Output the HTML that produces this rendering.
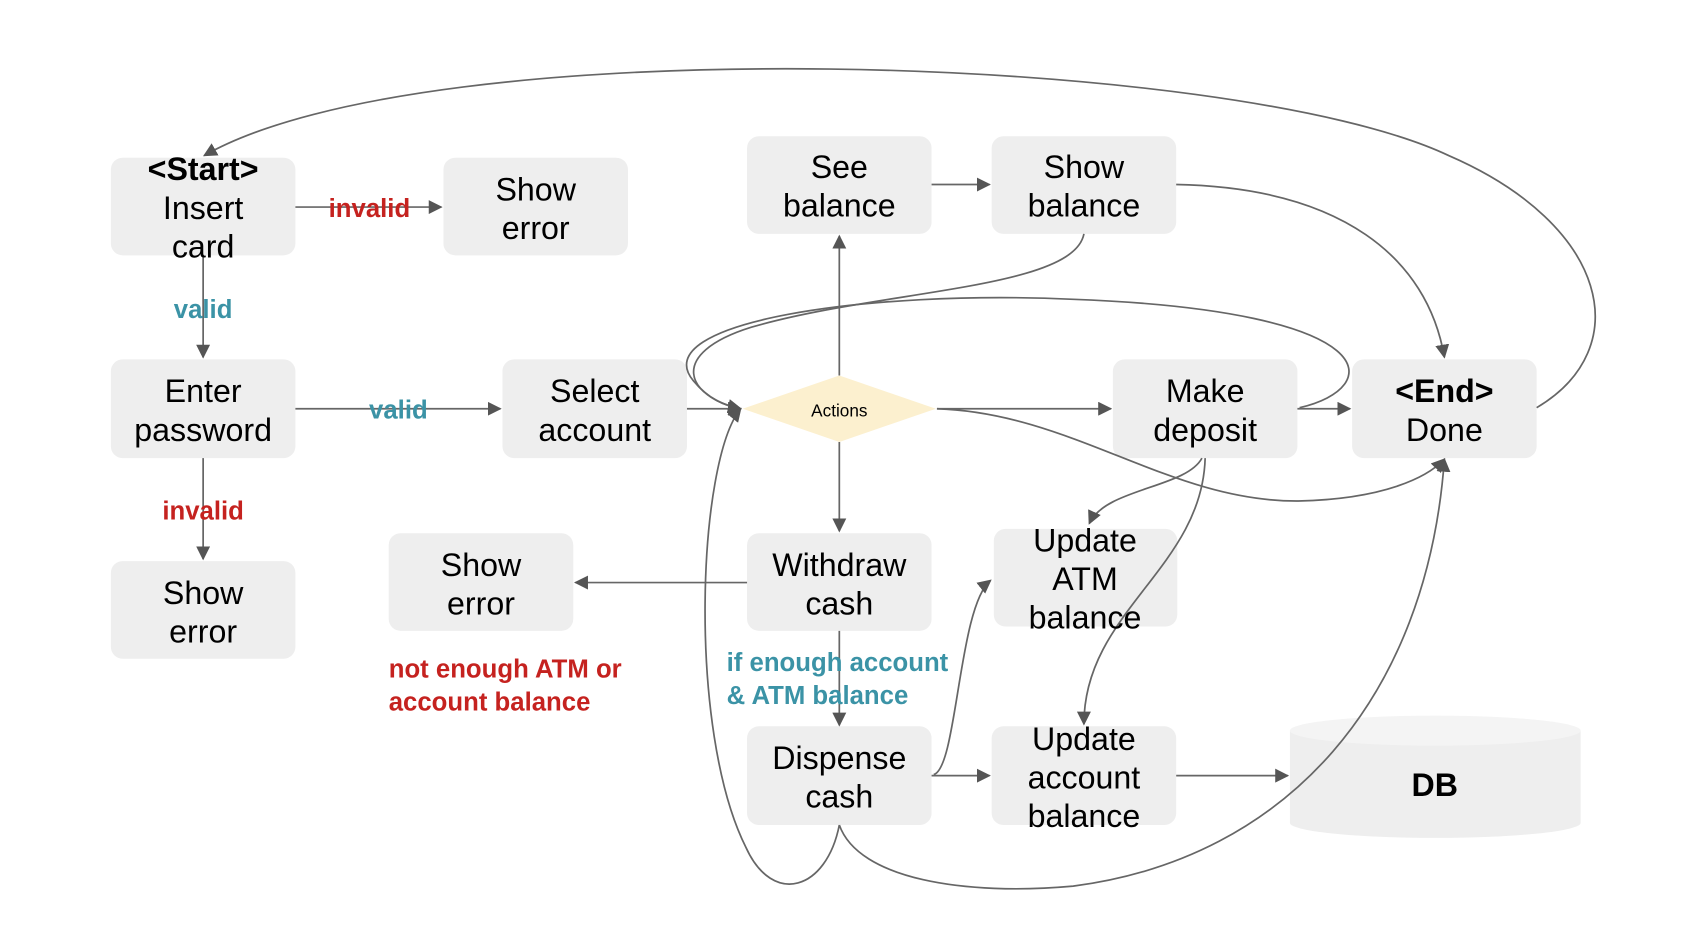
<!DOCTYPE html>
<html><head><style>
html,body{margin:0;padding:0;background:#fff;}
svg{display:block;}
text{font-family:"Liberation Sans",Arial,sans-serif;}
.n{font-size:30px;fill:#000;text-anchor:middle;dominant-baseline:middle;}
.b{font-weight:bold;}
.e{fill:none;stroke:#666;stroke-width:1.6;}
.r{fill:#c5221f;font-weight:bold;font-size:24px;dominant-baseline:middle;}
.t{fill:#3b93a6;font-weight:bold;font-size:24px;dominant-baseline:middle;}
</style></head><body>
<svg width="1684" height="928" viewBox="0 0 1569 865" xmlns="http://www.w3.org/2000/svg">
<defs>
<marker id="m" viewBox="0 0 10 10" refX="9" refY="5" markerWidth="13" markerHeight="13" orient="auto" markerUnits="userSpaceOnUse"><path d="M0,0L10,5L0,10z" fill="#555"/></marker></defs>
<g fill="#eeeeee">
<rect x="103" y="147" width="172" height="91" rx="11"/>
<rect x="413" y="147" width="172" height="91" rx="11"/>
<rect x="103" y="335" width="172" height="92" rx="11"/>
<rect x="468" y="335" width="172" height="92" rx="11"/>
<rect x="103" y="523" width="172" height="91" rx="11"/>
<rect x="696" y="127" width="172" height="91" rx="11"/>
<rect x="924" y="127" width="172" height="91" rx="11"/>
<rect x="1037" y="335" width="172" height="92" rx="11"/>
<rect x="1260" y="335" width="172" height="92" rx="11"/>
<rect x="362" y="497" width="172" height="91" rx="11"/>
<rect x="696" y="497" width="172" height="91" rx="11"/>
<rect x="926" y="493" width="171" height="91" rx="11"/>
<rect x="696" y="677" width="172" height="92" rx="11"/>
<rect x="924" y="677" width="172" height="92" rx="11"/>
<path d="M1202,681 L1202,767 A135.5,14 0 0 0 1473,767 L1473,681z"/>
</g>
<ellipse cx="1337.5" cy="681" rx="135.5" ry="14" fill="#f4f4f4"/>
<polygon points="692,381 782,350 872,381 782,412" fill="#fcf0cf"/>
<g class="e">
<path d="M275,193H411" marker-end="url(#m)"/>
<path d="M189,238V333" marker-end="url(#m)"/>
<path d="M275,381H466" marker-end="url(#m)"/>
<path d="M189,427V521" marker-end="url(#m)"/>
<path d="M640,381H690" marker-end="url(#m)"/>
<path d="M782,350V220" marker-end="url(#m)"/>
<path d="M868,172H922" marker-end="url(#m)"/>
<path d="M873,381H1035" marker-end="url(#m)"/>
<path d="M1209,381H1258" marker-end="url(#m)"/>
<path d="M782,412V495" marker-end="url(#m)"/>
<path d="M696,543H536" marker-end="url(#m)"/>
<path d="M782,588V676" marker-end="url(#m)"/>
<path d="M868,723H922" marker-end="url(#m)"/>
<path d="M1096,723H1200" marker-end="url(#m)"/>
<path d="M870,722C892,716 893,565 923,541" marker-end="url(#m)"/>
<path d="M1120,427C1105,455 1030,455 1015,488" marker-end="url(#m)"/>
<path d="M1123,427C1120,530 1010,570 1010,675" marker-end="url(#m)"/>
<path d="M1010,218C1000,270 820,270 700,305C620,330 640,370 690,381" marker-end="url(#m)"/>
<path d="M1211,380C1290,362 1295,290 1000,279C810,270 600,300 646,355C660,372 675,378 690,381" marker-end="url(#m)"/>
<path d="M1096,172C1250,175 1330,240 1346,333" marker-end="url(#m)"/>
<path d="M1432,380C1525,325 1500,210 1350,145C1150,50 400,25 190,145" marker-end="url(#m)"/>
<path d="M873,381C1000,385 1090,468 1210,467C1290,465 1330,445 1346,428" marker-end="url(#m)"/>
<path d="M782,769C770,830 720,845 695,790C640,680 650,430 690,381" marker-end="url(#m)"/>
<path d="M782,769C800,820 900,835 1000,826C1200,800 1330,650 1346,428" marker-end="url(#m)"/>
</g>
<g transform="translate(0,3)">
<text class="n b" x="189" y="157">&lt;Start&gt;</text>
<text class="n" x="189" y="193">Insert</text>
<text class="n" x="189" y="229">card</text>
<text class="n" x="499" y="176">Show</text><text class="n" x="499" y="212">error</text>
<text class="n" x="189" y="364">Enter</text><text class="n" x="189" y="400">password</text>
<text class="n" x="554" y="364">Select</text><text class="n" x="554" y="400">account</text>
<text class="n" x="189" y="552">Show</text><text class="n" x="189" y="588">error</text>
<text class="n" x="782" y="155">See</text><text class="n" x="782" y="191">balance</text>
<text class="n" x="1010" y="155">Show</text><text class="n" x="1010" y="191">balance</text>
<text class="n" x="1123" y="364">Make</text><text class="n" x="1123" y="400">deposit</text>
<text class="n b" x="1346" y="364">&lt;End&gt;</text><text class="n" x="1346" y="400">Done</text>
<text class="n" x="448" y="526">Show</text><text class="n" x="448" y="562">error</text>
<text class="n" x="782" y="526">Withdraw</text><text class="n" x="782" y="562">cash</text>
<text class="n" x="1011" y="503">Update</text><text class="n" x="1011" y="539">ATM</text><text class="n" x="1011" y="575">balance</text>
<text class="n" x="782" y="706">Dispense</text><text class="n" x="782" y="742">cash</text>
<text class="n" x="1010" y="688">Update</text><text class="n" x="1010" y="724">account</text><text class="n" x="1010" y="760">balance</text>
<text class="n b" x="1337" y="731">DB</text>
<text x="782" y="381" font-size="16" text-anchor="middle" dominant-baseline="middle">Actions</text>
<text class="r" x="344" y="193" text-anchor="middle">invalid</text>
<text class="r" x="189" y="475" text-anchor="middle">invalid</text>
<text class="t" x="189" y="287" text-anchor="middle">valid</text>
<text class="t" x="371" y="381" text-anchor="middle">valid</text>
<text class="r" x="362" y="622">not enough ATM or</text>
<text class="r" x="362" y="653">account balance</text>
<text class="t" x="677" y="616">if enough account</text>
<text class="t" x="677" y="647">&amp; ATM balance</text>
</g>
</svg>
</body></html>
